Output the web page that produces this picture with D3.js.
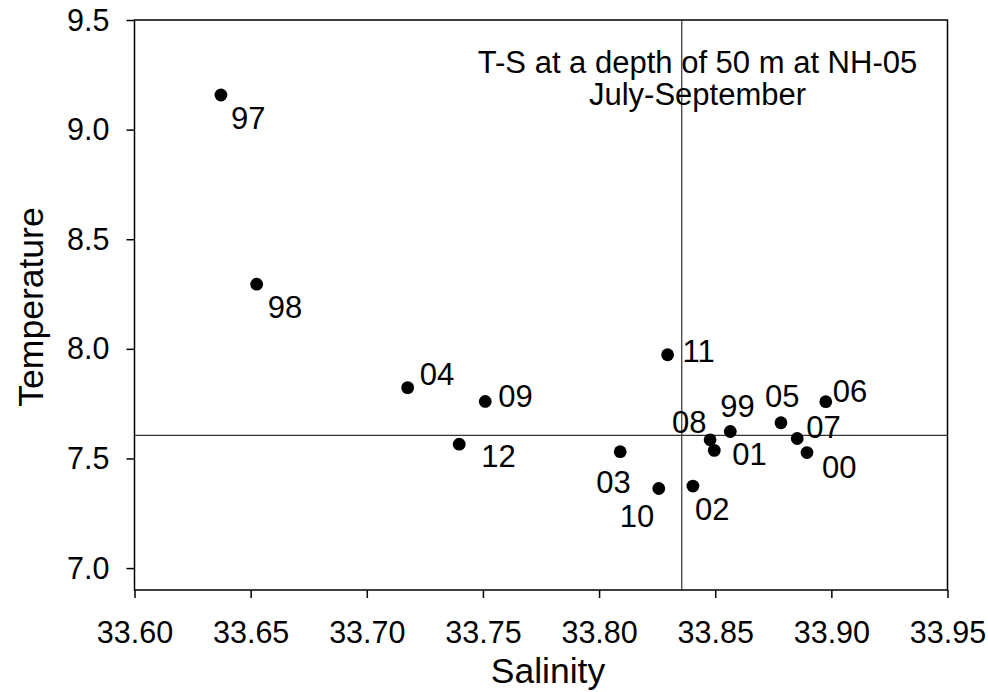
<!DOCTYPE html>
<html lang="en">
<head>
<meta charset="UTF-8">
<script src="https://d3js.org/d3.v7.min.js"></script>
<title>T-S at NH-05</title>
<style>
  body { margin: 0; background: #fff; }
  text { font-family: "Liberation Sans", Arial, sans-serif; fill: #000; }
</style>
</head>
<body>
<script>
    // year labels, salinity and temperature
    var years = ["97", "98", "04", "09", "12", "03", "10", "11", "02", "08", "01", "99", "05", "07", "00", "06"];
    var salinity = [33.6372, 33.6526, 33.7176, 33.7510, 33.7398, 33.8091, 33.8257, 33.8295,
                    33.8404, 33.8478, 33.8496, 33.8565, 33.8783, 33.8853, 33.8895, 33.8976];
    var temperature = [9.158, 8.295, 7.823, 7.760, 7.565, 7.531, 7.363, 7.973,
                       7.374, 7.585, 7.537, 7.623, 7.663, 7.591, 7.527, 7.759];
    // mean reference lines
    var meanSalinity = 33.8356;
    var meanTemperature = 7.605;

    var xTicks = [33.60, 33.65, 33.70, 33.75, 33.80, 33.85, 33.90, 33.95];
    var yTicks = [7.0, 7.5, 8.0, 8.5, 9.0, 9.5];

    // label placement relative to each dot (px)
    var labelOffset = {
        "97": [10, 34], "98": [11, 34], "04": [12, -3], "09": [13, 6], "12": [22, 23],
        "03": [-24, 41], "10": [-39, 39], "11": [15, 7], "02": [2, 34], "08": [-38, -7],
        "01": [18, 15], "99": [-10, -14], "05": [-16, -16], "07": [9, -1], "00": [15, 25],
        "06": [7, 0]
    };

    var width = 988, height = 692;
    var plotLeft = 134.5, plotRight = 947.5, plotTop = 20, plotBottom = 590;

    var svg = d3.select("body").append("svg")
        .attr("width", width)
        .attr("height", height);

    var x = d3.scaleLinear().domain([33.60, 33.95]).range([plotLeft, plotRight]);
    var y = d3.scaleLinear().domain([6.9, 9.5]).range([plotBottom, plotTop]);

    var points = years.map(function (d, i) {
        return { year: d, s: salinity[i], t: temperature[i] };
    });

    // axes
    var xAxis = d3.axisBottom(x).tickValues(xTicks).tickFormat(d3.format(".2f"))
        .tickSize(8).tickSizeOuter(0).tickPadding(23);
    var yAxis = d3.axisLeft(y).tickValues(yTicks).tickFormat(d3.format(".1f"))
        .tickSize(8).tickSizeOuter(0).tickPadding(17);

    var gx = svg.append("g").attr("transform", "translate(0," + plotBottom + ")").call(xAxis);
    var gy = svg.append("g").attr("transform", "translate(" + plotLeft + ",0)").call(yAxis);

    [gx, gy].forEach(function (g) {
        g.select(".domain").remove();
        g.selectAll(".tick line").attr("stroke", "#000").attr("stroke-width", 1.5);
        g.selectAll(".tick text")
            .style("font-family", "'Liberation Sans', Arial, sans-serif")
            .style("font-size", "30.5px")
            .attr("fill", "#000");
    });
    gy.selectAll(".tick text").attr("dy", "0.33em");

    // frame
    svg.append("rect")
        .attr("x", plotLeft).attr("y", plotTop)
        .attr("width", plotRight - plotLeft).attr("height", plotBottom - plotTop)
        .attr("fill", "none").attr("stroke", "#000").attr("stroke-width", 1.5);

    // mean lines
    svg.append("line")
        .attr("x1", x(meanSalinity)).attr("x2", x(meanSalinity))
        .attr("y1", plotTop).attr("y2", plotBottom)
        .attr("stroke", "#333").attr("stroke-width", 1.2);
    svg.append("line")
        .attr("x1", plotLeft).attr("x2", plotRight)
        .attr("y1", y(meanTemperature)).attr("y2", y(meanTemperature))
        .attr("stroke", "#333").attr("stroke-width", 1.2);

    // points
    svg.selectAll(".dot")
        .data(points)
        .enter()
        .append("circle")
        .attr("class", "dot")
        .attr("cx", function (d) { return x(d.s); })
        .attr("cy", function (d) { return y(d.t); })
        .attr("r", 6.4)
        .attr("fill", "#000");

    svg.selectAll(".lbl")
        .data(points)
        .enter()
        .append("text")
        .attr("class", "lbl")
        .attr("x", function (d) { return x(d.s) + labelOffset[d.year][0]; })
        .attr("y", function (d) { return y(d.t) + labelOffset[d.year][1]; })
        .style("font-size", "31px")
        .text(function (d) { return d.year; });

    // title inside plot
    var cx = 697.5;
    svg.append("text").attr("x", cx).attr("y", 73)
        .attr("text-anchor", "middle").style("font-size", "31px")
        .text("T-S at a depth of 50 m at NH-05");
    svg.append("text").attr("x", cx).attr("y", 105)
        .attr("text-anchor", "middle").style("font-size", "31px")
        .text("July-September");

    // axis titles
    svg.append("text")
        .attr("x", 548).attr("y", 683)
        .attr("text-anchor", "middle").style("font-size", "35.5px")
        .text("Salinity");
    svg.append("text")
        .attr("transform", "translate(43,307) rotate(-90)")
        .attr("text-anchor", "middle").style("font-size", "35.5px")
        .text("Temperature");
</script>
</body>
</html>
